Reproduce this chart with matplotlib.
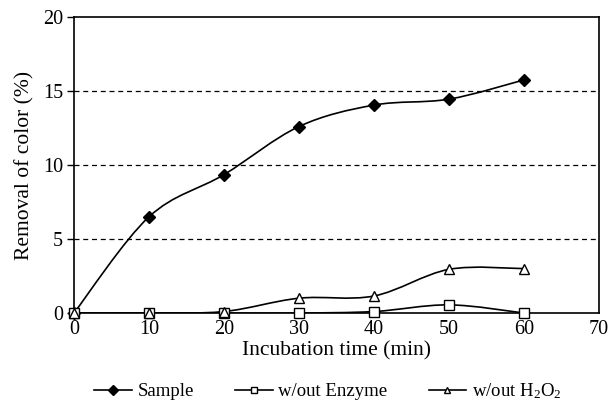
import numpy as np
import matplotlib
matplotlib.use("Agg")
import matplotlib.pyplot as plt
from matplotlib.path import Path
from matplotlib.patches import PathPatch
from matplotlib.lines import Line2D

plt.rcParams['font.family'] = ['Liberation Serif']
plt.rcParams['mathtext.fontset'] = 'custom'
plt.rcParams['mathtext.rm'] = 'Liberation Serif'
plt.rcParams['mathtext.it'] = 'Liberation Serif:italic'

# data
time_min = [0, 10, 20, 30, 40, 50, 60]
sample = [0, 6.5, 9.35, 12.6, 14.05, 14.45, 15.75]
no_enzyme = [0, 0, 0, 0, 0.1, 0.55, 0]
no_h2o2 = [0, 0, 0.1, 1.0, 1.15, 2.95, 3.0]

labels = ['Sample', 'w/out Enzyme', 'w/out H$_2$O$_2$']
markers = ['D', 's', '^']
faces = ['black', 'white', 'white']


def smooth_path(x, y):
    # excel-style smoothed line as cubic bezier segments
    pts = np.column_stack([x, y]).astype(float)
    n = len(pts)
    verts = [pts[0]]
    codes = [Path.MOVETO]
    for i in range(n - 1):
        p0 = pts[i - 1] if i > 0 else pts[i]
        p1 = pts[i]
        p2 = pts[i + 1]
        p3 = pts[i + 2] if i + 2 < n else pts[i + 1]
        c1 = p1 + (p2 - p0) / 6.0
        c2 = p2 - (p3 - p1) / 6.0
        verts += [c1, c2, p2]
        codes += [Path.CURVE4] * 3
    return Path(verts, codes)


fig = plt.figure(figsize=(6.09, 4.03), dpi=100)
ax = fig.add_axes([0.1215, 0.2233, 0.862, 0.7345])

for yy in [5, 10, 15]:
    ax.axhline(yy, color='black', lw=0.9, ls=(0, (4, 3)), zorder=1)

series = [sample, no_enzyme, no_h2o2]
handles = []
for vals, lab, mk, fc in zip(series, labels, markers, faces):
    ax.add_patch(PathPatch(smooth_path(time_min, vals), fill=False,
                           edgecolor='black', lw=1.2, zorder=2))
    ax.plot(time_min, vals, ls='none', marker=mk, ms=6.5, mfc=fc,
            mec='black', mew=1.0, zorder=3, clip_on=False)
    handles.append(Line2D([], [], color='black', lw=1.2, marker=mk, ms=5,
                          mfc=fc, mec='black', mew=1.0, label=lab))

ax.set_xlim(0, 70)
ax.set_ylim(0, 20)
ax.set_xticks(range(0, 71, 10))
ax.set_yticks(range(0, 21, 5))
ax.tick_params(axis='y', direction='out', length=5, width=1, labelsize=14.5, pad=3)
ax.tick_params(axis='x', length=0, labelsize=14.5, pad=5)
for s in ax.spines.values():
    s.set_linewidth(1.2)
ax.set_xlabel('Incubation time (min)', fontsize=15.5, labelpad=2)
ax.set_ylabel('Removal of color (%)', fontsize=15.5, labelpad=6)

fig.legend(handles=handles, loc='center', ncol=3, frameon=False,
           fontsize=13.5, handlelength=2.0, handletextpad=0.3,
           columnspacing=2.2, bbox_to_anchor=(328 / 609, 1 - 391 / 403))

fig.savefig('out.png', dpi=100)
